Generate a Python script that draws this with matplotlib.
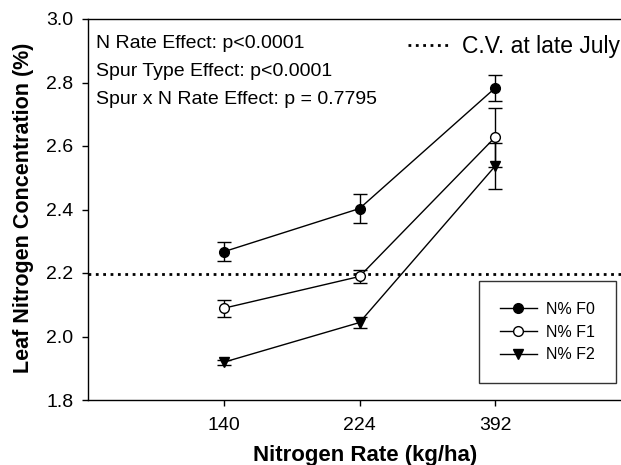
import matplotlib
matplotlib.use("Agg")
import matplotlib.pyplot as plt
from matplotlib.lines import Line2D

plt.rcParams['font.family'] = ['Liberation Sans', 'DejaVu Sans']

# данные
n_rates = ['140', '224', '392']
f0_mean = [2.267, 2.403, 2.783]
f0_err = [0.030, 0.047, 0.042]
f1_mean = [2.089, 2.189, 2.628]
f1_err = [0.027, 0.021, 0.093]
f2_mean = [1.919, 2.044, 2.537]
f2_err = [0.008, 0.017, 0.072]
cv_level = 2.197
y_ticks = [1.8, 2.0, 2.2, 2.4, 2.6, 2.8, 3.0]
stats_text = ['N Rate Effect: p<0.0001',
              'Spur Type Effect: p<0.0001',
              'Spur x N Rate Effect: p = 0.7795']

W, H = 621, 465
fig = plt.figure(figsize=(W / 100, H / 100), dpi=100)
ax = fig.add_axes([88 / W, 1 - 400 / H, (631 - 88) / W, (400 - 19) / H])

x = [1, 2, 3]
series = [
    (f0_mean, f0_err, 'o', 'black', 'N% F0'),
    (f1_mean, f1_err, 'o', 'white', 'N% F1'),
    (f2_mean, f2_err, 'v', 'black', 'N% F2'),
]
handles = []
for mean, err, mk, face, lab in series:
    ax.errorbar(x, mean, yerr=err, color='black', lw=1, elinewidth=1,
                capsize=5, capthick=1, marker=mk, markersize=7,
                markerfacecolor=face, markeredgecolor='black', zorder=3)
    handles.append(Line2D([], [], color='black', lw=1, marker=mk, markersize=7,
                          markerfacecolor=face, markeredgecolor='black', label=lab))

ax.axhline(cv_level, color='black', ls=':', lw=2, zorder=2)

ax.set_xlim(0, 4)
ax.set_ylim(1.8, 3.0)
ax.set_xticks(x)
ax.set_xticklabels(n_rates)
ax.set_yticks(y_ticks)
ax.set_yticklabels([f'{v:.1f}' for v in y_ticks])
ax.tick_params(direction='out', length=4, width=1, labelsize=14)
ax.tick_params(axis='x', pad=8)
ax.tick_params(axis='y', pad=6.5)
for s in ax.spines.values():
    s.set_linewidth(1)

ax.set_xlabel('Nitrogen Rate (kg/ha)', fontsize=16, fontweight='bold')
ax.set_ylabel('Leaf Nitrogen Concentration (%)', fontsize=15.5, fontweight='bold')
ax.xaxis.set_label_coords(0.51, -0.118)
ax.yaxis.set_label_coords(-0.10, 0.505)

# подписи со статистикой
for i, t in enumerate(stats_text):
    fig.text(96 / W, 1 - (43 + 28 * i) / H, t, fontsize=14, va='center', ha='left')

leg = ax.legend(handles=handles, loc='lower right', bbox_to_anchor=(616 / W, 1 - 383 / H),
                bbox_transform=fig.transFigure, borderaxespad=0, fontsize=11.5,
                frameon=True, fancybox=False, edgecolor='black', borderpad=1.3,
                handlelength=2.3, handletextpad=0.6, labelspacing=0.475)
leg.get_frame().set_linewidth(1)
ax.add_artist(leg)

cv_handle = Line2D([], [], color='black', ls=':', lw=2)
ax.legend(handles=[cv_handle], labels=['C.V. at late July'], loc='upper left',
          bbox_to_anchor=(408 / W, 1 - 35 / H), bbox_transform=fig.transFigure,
          borderaxespad=0, borderpad=0, frameon=False, fontsize=16.5,
          handlelength=1.75, handletextpad=0.6)

fig.savefig('out.png', dpi=100)
